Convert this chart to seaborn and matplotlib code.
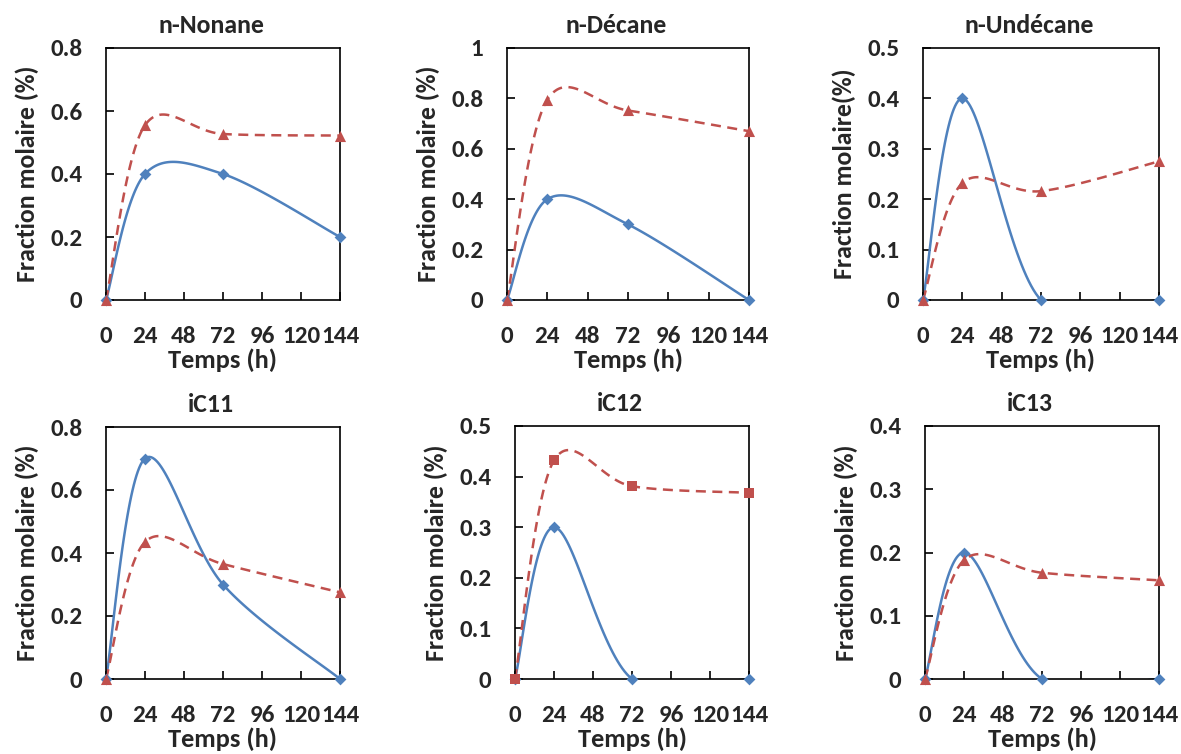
import numpy as np
import pandas as pd
import matplotlib
matplotlib.use("Agg")
import matplotlib.pyplot as plt
import seaborn as sns

# temps de prélèvement (h)
temps = [0, 24, 72, 144]

titres = ["n-Nonane", "n-Décane", "n-Undécane", "iC11", "iC12", "iC13"]
ylabels = ["Fraction molaire (%)", "Fraction molaire (%)", "Fraction molaire(%)",
           "Fraction molaire (%)", "Fraction molaire (%)", "Fraction molaire (%)"]
ymax = [0.8, 1.0, 0.5, 0.8, 0.5, 0.4]
ystep = [0.2, 0.2, 0.1, 0.2, 0.1, 0.1]

# série 1 (bleu, trait plein)
nonane_1 = [0, 0.40, 0.40, 0.20]
decane_1 = [0, 0.40, 0.30, 0.0]
undecane_1 = [0, 0.40, 0.0, 0.0]
ic11_1 = [0, 0.70, 0.30, 0.0]
ic12_1 = [0, 0.30, 0.0, 0.0]
ic13_1 = [0, 0.20, 0.0, 0.0]

# série 2 (rouge, pointillés)
nonane_2 = [0, 0.555, 0.527, 0.522]
decane_2 = [0, 0.795, 0.752, 0.670]
undecane_2 = [0, 0.232, 0.216, 0.275]
ic11_2 = [0, 0.435, 0.365, 0.275]
ic12_2 = [0, 0.432, 0.381, 0.368]
ic13_2 = [0, 0.188, 0.168, 0.156]

serie1 = [nonane_1, decane_1, undecane_1, ic11_1, ic12_1, ic13_1]
serie2 = [nonane_2, decane_2, undecane_2, ic11_2, ic12_2, ic13_2]
marqueur2 = ["^", "^", "^", "^", "s", "^"]

BLEU = "#4F81BD"
ROUGE = "#C0504D"


def lissage(x, y, n=40):
    # courbe lissée façon Excel (Bézier / Catmull-Rom)
    p = np.column_stack([x, y]).astype(float)
    pts = []
    for i in range(len(p) - 1):
        p0 = p[i - 1] if i > 0 else p[i]
        p3 = p[i + 2] if i + 2 < len(p) else p[i + 1]
        c1 = p[i] + (p[i + 1] - p0) / 6
        c2 = p[i + 1] - (p3 - p[i]) / 6
        t = np.linspace(0, 1, n)[:, None]
        b = ((1 - t) ** 3) * p[i] + 3 * ((1 - t) ** 2) * t * c1 + 3 * (1 - t) * t ** 2 * c2 + t ** 3 * p[i + 1]
        pts.append(b if i == 0 else b[1:])
    pts = np.vstack(pts)
    return pts[:, 0], pts[:, 1]


sns.set_style("ticks")
plt.rcParams['font.family'] = ['Carlito', 'DejaVu Sans']
plt.rcParams['font.weight'] = 'bold'

fig = plt.figure(figsize=(11.81, 7.54), dpi=100)
W, H = 1181, 754
# positions des zones de tracé en pixels (gauche, droite, haut, bas)
boites = [(106, 340, 48, 300), (507, 749, 48, 300), (923, 1159, 48, 300),
          (106, 340, 427, 679), (515, 749, 426, 679), (925, 1159, 426, 679)]

for k in range(6):
    g, d, h, b = boites[k]
    ax = fig.add_axes([g / W, 1 - b / H, (d - g) / W, (b - h) / H])

    for y, couleur, style, m, ms in [(serie1[k], BLEU, "-", "D", 6),
                                     (serie2[k], ROUGE, (0, (4, 2.6)), marqueur2[k], 8 if marqueur2[k] == "^" else 7)]:
        xs, ys = lissage(temps, y)
        df = pd.DataFrame({"t": xs, "f": ys})
        sns.lineplot(data=df, x="t", y="f", ax=ax, color=couleur, lw=1.8,
                     linestyle=style, sort=False, estimator=None)
        pts = pd.DataFrame({"t": temps, "f": y})
        sns.scatterplot(data=pts, x="t", y="f", ax=ax, color=couleur, marker=m,
                        s=ms ** 2, edgecolor=couleur, linewidth=0, clip_on=False, zorder=5)

    ax.set_xlim(0, 144)
    ax.set_ylim(0, ymax[k])
    ax.set_xticks([0, 24, 48, 72, 96, 120, 144])
    yt = np.round(np.arange(0, ymax[k] + 1e-9, ystep[k]), 2)
    ax.set_yticks(yt)
    ax.set_yticklabels(["{:g}".format(v) for v in yt])
    ax.tick_params(direction="in", length=6, width=1.2, labelsize=18, pad=17, color="black")
    ax.tick_params(axis="x", pad=19)
    for s in ax.spines.values():
        s.set_visible(True)
        s.set_linewidth(1.2)
        s.set_color("black")
    ax.set_xlabel("Temps (h)", fontsize=19, fontweight="bold", labelpad=1)
    ax.set_ylabel(ylabels[k], fontsize=18.5, fontweight="bold", labelpad=8)
    ax.text(0.45, 1.09, titres[k], transform=ax.transAxes, ha="center", va="center",
            fontsize=18.5, fontweight="bold")

fig.savefig("out.png", dpi=100)
